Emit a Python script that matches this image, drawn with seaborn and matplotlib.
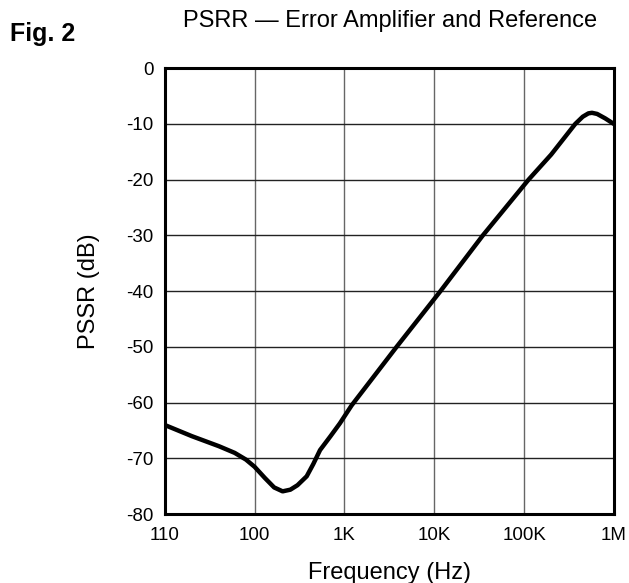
import numpy as np
import pandas as pd
import matplotlib
matplotlib.use("Agg")
import matplotlib.pyplot as plt
import seaborn as sns

# Data
freq_hz = [10, 20, 40, 60, 80, 100, 130, 165, 205, 250, 300, 380, 450, 535,
           700, 890, 1200, 3800, 11700, 34700, 112000, 200000, 371000,
           450000, 520000, 570000, 650000, 800000, 1000000]
psrr_db = [-64.0, -66.0, -67.8, -69.0, -70.2, -71.5, -73.5, -75.2, -75.9,
           -75.6, -74.8, -73.2, -71.0, -68.5, -66.0, -63.7, -60.5, -50.0,
           -40.0, -30.0, -20.0, -15.5, -10.0, -8.7, -8.1, -8.0, -8.2, -9.0,
           -10.0]

x_ticks = [10, 100, 1000, 10000, 100000, 1000000]
x_labels = ["110", "100", "1K", "10K", "100K", "1M"]
y_ticks = [0, -10, -20, -30, -40, -50, -60, -70, -80]
y_labels = ["0", "-10", "-20", "-30", "-40", "-50", "-60", "-70", "-80"]

df = pd.DataFrame({"freq": freq_hz, "psrr": psrr_db})

sns.set_style("white")
plt.rcParams["font.family"] = ["Liberation Sans", "DejaVu Sans"]
plt.rcParams["text.color"] = "black"
plt.rcParams["axes.labelcolor"] = "black"
plt.rcParams["xtick.color"] = "black"
plt.rcParams["ytick.color"] = "black"

fig = plt.figure(figsize=(6.29, 5.83), dpi=100)
ax = fig.add_axes([0.262, 0.118, 0.714, 0.765])

sns.lineplot(data=df, x="freq", y="psrr", color="black", linewidth=3.2, ax=ax)

ax.set_xscale("log")
ax.set_xlim(10, 1e6)
ax.set_ylim(-80, 0)
ax.set_xticks(x_ticks)
ax.set_xticklabels(x_labels, fontsize=13.5)
ax.set_yticks(y_ticks)
ax.set_yticklabels(y_labels, fontsize=13.5)
ax.minorticks_off()
ax.tick_params(axis="x", length=0, pad=9)
ax.tick_params(axis="y", length=0, pad=8)

ax.grid(True, axis="x", color="#666666", linewidth=1.0)
ax.grid(True, axis="y", color="#222222", linewidth=1.0)
for s in ax.spines.values():
    s.set_color("black")
    s.set_linewidth(2.2)

ax.set_xlabel("Frequency (Hz)", fontsize=17, labelpad=13)
ax.set_ylabel("PSSR (dB)", fontsize=17, labelpad=19)

fig.text(0.62, 0.954, "PSRR \u2014 Error Amplifier and Reference",
         ha="center", va="baseline", fontsize=17)
fig.text(0.016, 0.930, "Fig. 2", ha="left", va="baseline",
         fontsize=18, fontweight="bold")

fig.savefig("out.png", dpi=100)
